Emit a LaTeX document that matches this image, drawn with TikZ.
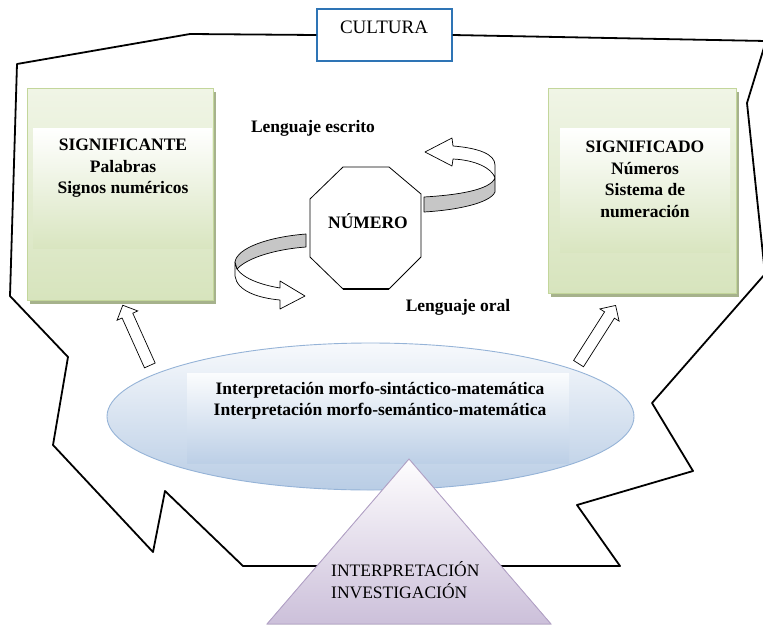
\documentclass[tikz,border=0pt]{standalone}
\usepackage{fontspec}
\setmainfont{Liberation Serif}
\usetikzlibrary{shapes.geometric,shapes.arrows,shadows,calc}

\definecolor{cultblue}{HTML}{2E74B5}
\definecolor{greenedge}{HTML}{C3D69B}
\definecolor{greentop}{HTML}{F0F5E6}
\definecolor{greenbot}{HTML}{D7E4BD}
\definecolor{greenshadow}{HTML}{A6B28C}
\definecolor{bluetop}{HTML}{F7F9FC}
\definecolor{bluebot}{HTML}{B9CDE5}
\definecolor{blueedge}{HTML}{95B3D7}
\definecolor{lilactop}{HTML}{FEFDFE}
\definecolor{lilacbot}{HTML}{CCC0DA}
\definecolor{lilacedge}{HTML}{B3A2C7}
\definecolor{ribbongray}{HTML}{C6C6C6}

\begin{document}
\begin{tikzpicture}[x=1pt,y=-1pt,
  boldtxt/.style={font=\fontsize{17.5}{21.5}\selectfont\bfseries, align=center, inner sep=0pt},
  plaintxt/.style={font=\fontsize{17.5}{21.5}\selectfont, inner sep=0pt},
  greenbox/.style={draw=greenedge, line width=0.8pt, top color=greentop, bottom color=greenbot,
    general shadow={fill=greenshadow, shadow xshift=3pt, shadow yshift=-4pt}},
  blockarrow/.style={single arrow, draw=black, line width=0.7pt, fill=white,
    inner xsep=0pt, inner ysep=0pt, single arrow head extend=5.5pt, single arrow head indent=0pt},
  ribbonline/.style={draw=black, line width=0.7pt, line join=round},
  outline/.style={line width=1.8pt, line join=round}
]
\useasboundingbox (0,0) rectangle (763,624);

% culture frame box
\node[draw=cultblue, line width=1.3pt, fill=white, minimum width=135pt, minimum height=52pt, inner sep=0pt]
  (cultura) at (384.5,35) {};
\node[plaintxt, font=\fontsize{19}{22}\selectfont] (culturatxt) at (384,27) {CULTURA};

% irregular outline around everything, leaving the page on the right
\begin{scope}
  \clip (0,0) rectangle (763,624);
  \draw[outline] (cultura.east) -- (766,41) -- (747,103) -- (765,274) -- (652,403) -- (693,471)
    -- (577,505) -- (620,566) -- (243,566) -- (165,491) -- (153,552) -- (53,445) -- (68,357)
    -- (10,296) -- (17,64) -- (190,34) -- (cultura.west);
\end{scope}

% signifier / signified boxes
\node[greenbox, minimum width=186pt, minimum height=212pt, inner sep=0pt] (sig) at (120,194) {};
\shade[top color=white, bottom color=greenbot!95!white] (33,128) rectangle (212,248);
\node[boldtxt] (sigtxt) at (123,168.5) {SIGNIFICANTE\\Palabras\\Signos numéricos};

\node[greenbox, minimum width=188pt, minimum height=205pt, inner sep=0pt] (sdo) at (642,190.5) {};
\shade[top color=white, bottom color=greenbot!95!white] (560,128) rectangle (730,252);
\node[boldtxt] (sdotxt) at (645,179.5) {SIGNIFICADO\\Números\\Sistema de\\numeración};

% central octagon
\coordinate (num) at (365.5,228);
\draw[line width=0.8pt, fill=white, line join=miter]
  ($(num)+(-22.5,-61)$) -- ($(num)+(23.5,-61)$) -- ($(num)+(55.5,-34)$) -- ($(num)+(55.5,29)$)
  -- ($(num)+(23.5,61)$) -- ($(num)+(-22.5,61)$) -- ($(num)+(-55.5,29)$) -- ($(num)+(-55.5,-29)$) -- cycle;
\draw[line width=1.8pt] ($(num)+(-22.5,61)$) -- ($(num)+(23.5,61)$);
\node[boldtxt] (numtxt) at (368,221) {NÚMERO};

\node[boldtxt] (escrito) at (313,128) {Lenguaje escrito};
\node[boldtxt] (oral) at (458,307) {Lenguaje oral};

% ribbon arrow, upper right
\draw[ribbonline, fill=white] (495,165) -- (495,178) .. controls (492,168) and (475,160) .. (453,159)
  -- (452,166) -- (425,152) -- (452,138) -- (453,146) .. controls (478,148) and (495,154) .. (495,165) -- cycle;
\draw[ribbonline, fill=ribbongray] (424,197) .. controls (458,195) and (490,190) .. (495,178)
  -- (495,192) .. controls (490,203) and (458,210) .. (424,212) -- cycle;

% ribbon arrow, lower left
\draw[ribbonline, fill=white] (235,262) -- (235,276) .. controls (237,291) and (258,298) .. (280,300)
  -- (280,309) -- (305,296) -- (280,281) -- (280,288) .. controls (262,285) and (244,279) .. (237,269) -- cycle;
\draw[ribbonline, fill=ribbongray] (306,234) .. controls (268,237) and (237,248) .. (235,262)
  -- (237,269) .. controls (248,257) and (278,249) .. (306,247) -- cycle;

% interpretation ellipse
\node[ellipse, draw=blueedge, line width=0.9pt, top color=bluetop, bottom color=bluebot,
  minimum width=527pt, minimum height=147pt, inner sep=0pt] (interp) at (370.5,416.5) {};
\shade[top color=bluetop!50!white, bottom color=bluebot!95!white] (187,373) rectangle (569,463);
\node[boldtxt] (interptxt) at (380,400.5)
  {Interpretación morfo-sintáctico-matemática\\Interpretación morfo-semántico-matemática};

% arrows up to the boxes
\node[blockarrow, minimum height=66pt, rotate=114.2] (upL) at (137.5,338) {\rule{0pt}{11pt}};
\node[blockarrow, minimum height=69pt, rotate=57.5] (upR) at (595.5,337) {\rule{0pt}{11pt}};

% research triangle
\filldraw[draw=lilacedge, line width=0.9pt, top color=lilactop, bottom color=lilacbot]
  (409,459) -- (551,624) -- (267,624) -- cycle;
\node[plaintxt, align=left, anchor=west] (triangletxt) at (331,580) {INTERPRETACIÓN\\INVESTIGACIÓN};
\end{tikzpicture}
\end{document}
